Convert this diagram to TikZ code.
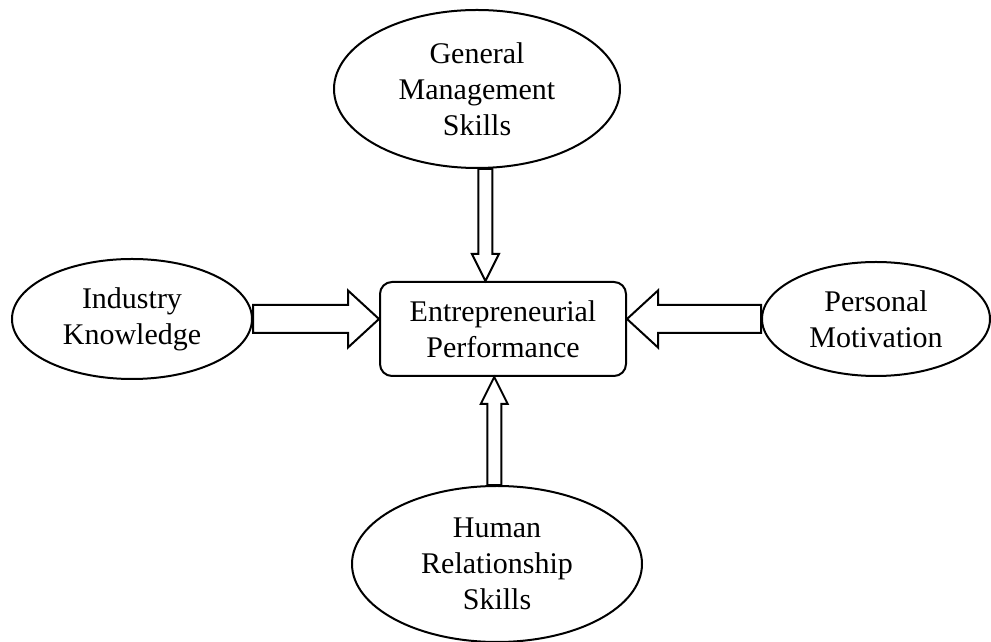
\documentclass[tikz,border=0pt]{standalone}
\usepackage{fontspec}
\setmainfont{Liberation Serif}
\usetikzlibrary{shapes.geometric,calc}
\tikzset{
  oval/.style={draw,ellipse,line width=1pt,inner sep=0pt,align=center},
  epbox/.style={draw,rectangle,rounded corners=6pt,line width=1pt,align=center,
    minimum width=123pt,minimum height=47pt},
  blockarrow/.style n args={3}{line width=1pt,line join=miter,
    to path={let \p1=(\tikztostart),\p2=(\tikztotarget),
      \n1={atan2(\y2-\y1,\x2-\x1)},\n2={veclen(\x2-\x1,\y2-\y1)} in
      (\p1) ++(\n1+90:#1) -- ++(\n1:\n2-#3) -- ++(\n1+90:#2-#1) -- (\p2)
      -- ($(\p2)+(\n1+180:#3)+(\n1-90:#2)$) -- ++(\n1+90:#2-#1)
      -- ($(\p1)+(\n1-90:#1)$) -- cycle}},
  vblock/.style={blockarrow={3.5pt}{6.75pt}{13.5pt}},
  hblock/.style={blockarrow={7pt}{14.25pt}{15.5pt}}
}
\begin{document}
\begin{tikzpicture}[x=0.5pt,y=0.5pt,font=\fontsize{15}{18}\selectfont]
      \useasboundingbox (0,0) rectangle (991,642);
      \draw
        (503,313) node[epbox] (ep){Entrepreneurial\\Performance}
        (477,553) node[oval,minimum width=143pt,minimum height=79pt] (gms){General\\Management\\Skills}
        (132,323) node[oval,minimum width=120pt,minimum height=60pt] (ik){Industry\\Knowledge}
        (876,323) node[oval,minimum width=114pt,minimum height=57pt] (pm){Personal\\Motivation}
        (497,78) node[oval,minimum width=145pt,minimum height=78pt] (hrs){Human\\Relationship\\Skills};
      \begin{scope}
        \draw[vblock] (gms.276) to (ep.north -| gms.276);
        \draw[vblock] (hrs.92) to (ep.south -| hrs.92);
        \draw[hblock] (ik.east) to (ep.west |- ik.east);
        \draw[hblock] (pm.west) to (ep.east |- pm.west);
      \end{scope}
    \end{tikzpicture}
\end{document}
